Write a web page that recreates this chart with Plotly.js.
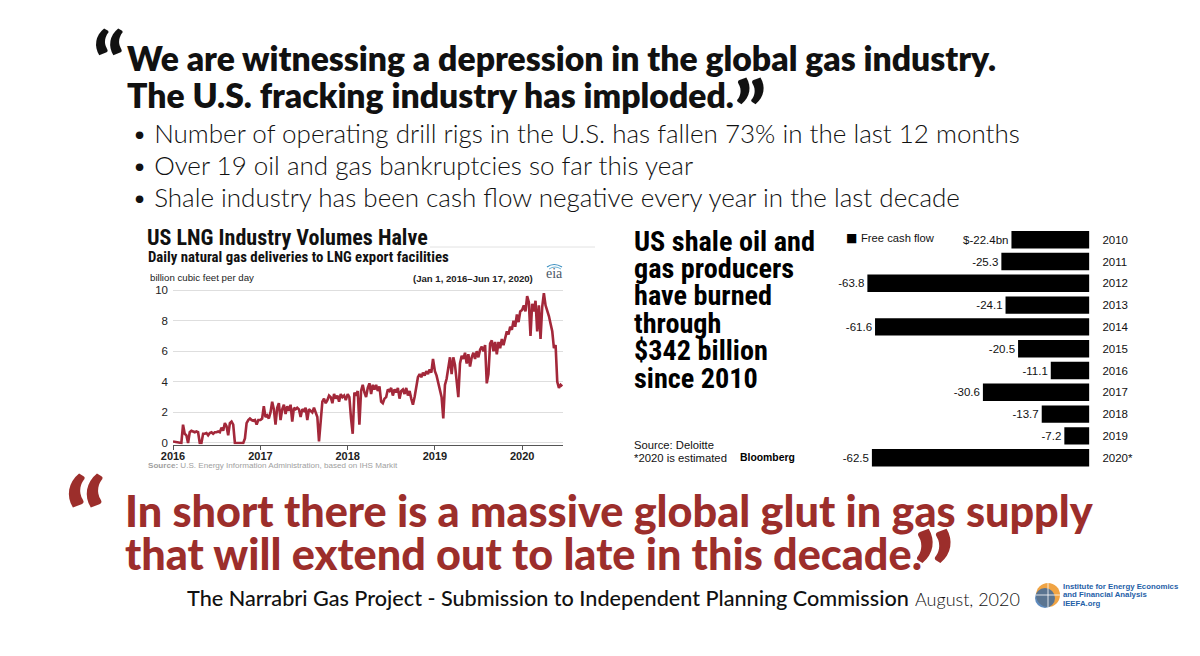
<!DOCTYPE html>
<html><head><meta charset="utf-8">
<script src="https://cdn.plot.ly/plotly-3.0.1.min.js"></script>
<style>html,body{margin:0;padding:0;background:#fff;}#chart{width:1200px;height:656px;}</style>
</head><body><div id="chart"></div>
<script>
// ---------- DATA ----------
// US LNG feedgas deliveries, billion cubic feet per day, weekly readings
const lng2016 = [0.1,0.08,0.05,0.02,0,0,1.2,0.6,0.5,0.0,0.7,0.8,0.75,0.7,0.75,0.7,0.0,0.0,0.6,0.6,0.65,0.5,0.65,0.7,0.6,0.7,0.7,0.75,0.7,1.0,0.8,1.3,1.1,0.5,1.3,1.4,1.2,0,0,0,0,0,0,0.3,1.3,1.5,1.6,1.5,1.45,1.5,1.2,1.5];
const lng2017 = [1.5,1.6,2.4,1.7,1.8,1.6,2.0,2.7,2.2,1.2,2.3,2.6,1.5,2.2,2.5,1.9,2.4,2.1,2.5,1.4,2.3,2.2,2.3,2.2,1.7,2.2,2.1,2.3,1.5,2.2,2.1,2.0,2.3,2.0,1.7,0.1,1.5,2.7,2.9,2.6,2.8,3.1,3.0,2.6,3.2,2.9,3.1,2.7,3.2,3.0,3.1,2.8];
const lng2018 = [3.2,3.0,1.6,0.6,3.3,3.1,3.4,1.2,3.4,3.8,3.3,3.0,3.6,3.9,3.2,3.8,3.5,3.8,3.4,3.7,2.7,2.6,2.9,3.0,3.5,3.4,3.6,3.1,3.5,3.3,3.6,2.9,3.4,3.5,3.2,3.6,3.1,3.4,2.9,2.5,3.0,3.8,4.3,4.5,4.3,4.6,4.4,4.7,4.5,4.8,4.6,5.5];
const lng2019 = [4.7,4.4,3.9,3.5,3.0,1.6,3.8,4.2,5.0,5.6,4.5,5.6,5.1,3.8,3.0,5.2,5.7,5.5,5.9,5.2,5.8,5.0,5.6,5.9,5.5,6.0,5.6,6.1,6.3,6.0,6.4,3.9,4.5,6.5,6.7,6.0,6.6,5.8,6.6,6.2,6.8,6.4,6.9,7.3,7.1,7.6,7.4,8.0,7.6,8.4,7.9,8.6];
const lng2020 = [8.7,9.0,8.6,9.6,9.2,7.0,9.1,8.6,9.3,7.3,9.0,6.8,8.9,9.8,9.0,8.7,8.3,7.8,7.3,6.2,6.4,4.0,3.6,3.8,3.7];
const lngYears = [2016,2017,2018,2019,2020];
const lngSeries = [lng2016,lng2017,lng2018,lng2019,lng2020];
const lngXTicks = ['2016-01-01','2017-01-01','2018-01-01','2019-01-01','2020-01-01'];
const lngXTickLabels = ['2016','2017','2018','2019','2020'];
const lngYTicks = [0,2,4,6,8,10];

// Free cash flow of US shale oil & gas producers, $bn
const fcfYears = ['2010','2011','2012','2013','2014','2015','2016','2017','2018','2019','2020*'];
const fcfValues = [-22.4,-25.3,-63.8,-24.1,-61.6,-20.5,-11.1,-30.6,-13.7,-7.2,-62.5];
const fcfLabels = fcfValues.map((v,i)=> i===0 ? '$'+v+'bn' : String(v));

// ---------- HELPERS ----------
const W=1200,H=656;
const px = x => x/W, py = y => 1 - y/H;
const cv = document.createElement('canvas').getContext('2d');
function fit(text, weight, family, width){ cv.font = weight+' 100px '+family; return 100*width/cv.measureText(text).width; }
const F_RALE = 'Lato, "Open Sans", sans-serif';
const F_COND = '"Liberation Sans Narrow", "Roboto Condensed", "Arial Narrow", Roboto, sans-serif';
const F_HELV = '"Liberation Sans", Arial, sans-serif';
const RED = '#9c2e2b';
const annotations = [];
function txt(text, x, y, size, o){
  o = o||{};
  annotations.push({text:text, x:px(x), y:py(y), xref:'paper', yref:'paper', showarrow:false,
    xanchor:o.xa||'left', yanchor:o.ya||'middle', borderpad:0,
    font:{family:o.family||F_RALE, size:size, color:o.color||'#111', weight:o.weight||400}});
}

// ---------- LINE TRACE ----------
const lngX = [], lngY = [];
lngSeries.forEach((arr, k) => arr.forEach((v, w) => {
  const d = new Date(Date.UTC(lngYears[k], 0, 1 + 7*w));
  lngX.push(d.toISOString().slice(0,10)); lngY.push(v);
}));

const traces = [
  {type:'scatter', mode:'lines', x:lngX, y:lngY, xaxis:'x', yaxis:'y',
   line:{color:'#a3283a', width:2.6}, showlegend:false, hoverinfo:'skip'},
  {type:'bar', orientation:'h', x:fcfValues, y:fcfYears, xaxis:'x2', yaxis:'y2',
   marker:{color:'#000'}, width:0.8, text:fcfLabels, textposition:'outside', cliponaxis:false,
   constraintext:'none', textfont:{family:F_HELV, size:11.5, color:'#111'}, showlegend:false, hoverinfo:'skip'}
];

// ---------- TEXT ----------
const t1 = 'We are witnessing a depression in the global gas industry.';
const sT = fit(t1, 800, F_RALE, 870);
txt('\u201C', 92, 61, 82, {weight:900});
txt(t1, 126, 58, sT, {weight:800});
txt('The U.S. fracking industry has imploded.', 126, 95, sT, {weight:800});
txt('\u201D', 733, 109, 82, {weight:900});

const b1 = '\u2022 Number of operating drill rigs in the U.S. has fallen 73% in the last 12 months';
const sB = fit(b1, 300, F_RALE, 889);
txt(b1, 131, 133, sB, {weight:300});
txt('\u2022 Over 19 oil and gas bankruptcies so far this year', 131, 165, sB, {weight:300});
txt('\u2022 Shale industry has been cash flow negative every year in the last decade', 131, 197, sB, {weight:300});

const r1 = 'In short there is a massive global glut in gas supply';
const sR = fit(r1, 900, F_RALE, 968);
txt('\u201C', 64, 515, 104, {weight:900, color:RED});
txt(r1, 124, 510, sR, {weight:900, color:RED});
txt('that will extend out to late in this decade.', 124, 553, sR, {weight:900, color:RED});
txt('\u201D', 912, 569, 104, {weight:900, color:RED});

const f1 = 'The Narrabri Gas Project - Submission to Independent Planning Commission';
txt(f1, 186, 598, fit(f1, 500, F_RALE, 722), {weight:500});
txt('August, 2020', 914, 599, fit('August, 2020', 300, F_RALE, 105), {weight:300});

// IEEFA logo text
txt('Institute for Energy Economics', 1062, 586, 7.8, {family:F_HELV, weight:700, color:'#1f5fa8'});
txt('and Financial Analysis', 1062, 594.5, 7.8, {family:F_HELV, weight:700, color:'#1f5fa8'});
txt('IEEFA.org', 1062, 603, 7.8, {family:F_HELV, weight:700, color:'#1f5fa8'});

// LNG chart texts
const lt = 'US LNG Industry Volumes Halve';
txt(lt, 146, 237, fit(lt, 700, F_COND, 281), {family:F_COND, weight:700});
const ls = 'Daily natural gas deliveries to LNG export facilities';
txt(ls, 147, 257, fit(ls, 700, F_COND, 301), {family:F_COND, weight:700});
txt('billion cubic feet per day', 149, 277, fit('billion cubic feet per day',400,F_HELV,104), {family:F_HELV, color:'#222'});
txt('(Jan 1, 2016\u2013Jun 17, 2020)', 412, 278, fit('(Jan 1, 2016\u2013Jun 17, 2020)',700,F_HELV,120), {family:F_HELV, weight:700, color:'#222'});
txt('eia', 545, 273, 14, {family:'"Liberation Serif", serif', color:'#4a5866'});
txt('<b>Source:</b> U.S. Energy Information Administration, based on IHS Markit', 147, 465,
    fit('Source: U.S. Energy Information Administration, based on IHS Markit',400,F_HELV,248), {family:F_HELV, color:'#a0a0a0'});

// Bar chart texts
const bl = ['US shale oil and','gas producers','have burned','through','$342 billion','since 2010'];
const sBL = fit(bl[0], 700, F_COND, 181);
bl.forEach((s,i)=> txt(s, 633, 241 + 27.4*i, sBL, {family:F_COND, weight:700, color:'#000'}));
txt('Source: Deloitte', 633, 445, fit('Source: Deloitte',400,F_HELV,80), {family:F_HELV, color:'#111'});
txt('*2020 is estimated', 633, 457.5, fit('*2020 is estimated',400,F_HELV,93), {family:F_HELV, color:'#111'});
txt('Bloomberg', 739, 457.5, fit('Bloomberg',700,F_HELV,55), {family:F_HELV, weight:700, color:'#000'});
txt('\u25A0', 845, 238.5, 12, {family:'"DejaVu Sans", sans-serif', color:'#000'});
txt('Free cash flow', 860, 238.5, fit('Free cash flow',400,F_HELV,73), {family:F_HELV, color:'#111'});

// ---------- SHAPES ----------
const shapes = [
  {type:'line', xref:'paper', yref:'paper', x0:px(430), x1:px(595), y0:py(247), y1:py(247), line:{color:'#e2e2e2', width:1}},
  {type:'circle', xref:'paper', yref:'paper', x0:px(1036), x1:px(1060), y0:py(607), y1:py(583), fillcolor:'#f0a444', line:{width:0}},
  {type:'circle', xref:'paper', yref:'paper', x0:px(1035), x1:px(1055), y0:py(608), y1:py(588), fillcolor:'rgba(40,100,170,0.75)', line:{width:0}},
  {type:'line', xref:'paper', yref:'paper', x0:px(1036), x1:px(1060), y0:py(595), y1:py(595), line:{color:'rgba(255,255,255,0.8)', width:1}},
  {type:'line', xref:'paper', yref:'paper', x0:px(1048), x1:px(1048), y0:py(583), y1:py(607), line:{color:'rgba(255,255,255,0.8)', width:1}},
  {type:'path', xref:'paper', yref:'paper', path:`M ${px(547)} ${py(267)} Q ${px(554)} ${py(262)} ${px(562)} ${py(267)}`, line:{color:'#3b8fc0', width:1.2}},
  {type:'path', xref:'paper', yref:'paper', path:`M ${px(549)} ${py(269)} Q ${px(555)} ${py(265)} ${px(561)} ${py(269)}`, line:{color:'#6fb3d6', width:1}}
];

// ---------- LAYOUT ----------
const layout = {
  width:W, height:H, margin:{l:0,r:0,t:0,b:0},
  paper_bgcolor:'#fff', plot_bgcolor:'rgba(0,0,0,0)',
  xaxis:{domain:[px(173), px(563)], type:'date', range:['2016-01-01','2020-06-20'],
    tickvals:lngXTicks, ticktext:lngXTickLabels, ticks:'outside', ticklen:4, tickcolor:'#555',
    showline:true, linecolor:'#555', linewidth:1, showgrid:false, zeroline:false,
    ticklabelstandoff:-3,
    tickfont:{family:F_HELV, size:11, color:'#222', weight:700}, anchor:'y'},
  yaxis:{domain:[py(444.5), py(288.5)], range:[-0.1,10.1], tickvals:lngYTicks,
    showgrid:true, gridcolor:'#dedede', gridwidth:1, zeroline:false, showline:false, ticks:'',
    ticklabelstandoff:4, tickfont:{family:F_HELV, size:11.5, color:'#222'}, anchor:'x'},
  xaxis2:{domain:[px(845.8), px(1089.4)], range:[-70,0], visible:false, anchor:'y2'},
  yaxis2:{domain:[py(468.6), py(228.8)], type:'category', autorange:'reversed', side:'right',
    showgrid:false, zeroline:false, showline:false, ticks:'', ticklabelstandoff:12,
    tickfont:{family:F_HELV, size:11.5, color:'#111'}, anchor:'x2'},
  bargap:0.2, showlegend:false,
  annotations:annotations, shapes:shapes
};
Plotly.newPlot('chart', traces, layout, {staticPlot:true, displayModeBar:false});
</script></body></html>
